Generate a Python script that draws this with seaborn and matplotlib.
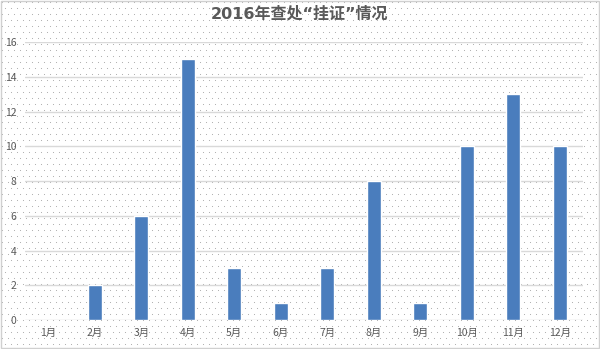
import matplotlib
matplotlib.use("Agg")
import matplotlib.pyplot as plt
import seaborn as sns
import pandas as pd
import numpy as np

months = ["1月", "2月", "3月", "4月", "5月", "6月", "7月", "8月", "9月", "10月", "11月", "12月"]
counts = [0, 2, 6, 15, 3, 1, 3, 8, 1, 10, 13, 10]
yticks = [0, 2, 4, 6, 8, 10, 12, 14, 16]
title = "2016年查处“挂证”情况"

sns.set_theme(style="white")
plt.rcParams['font.family'] = ['Noto Sans CJK SC', 'DejaVu Sans']

fig = plt.figure(figsize=(6.0, 3.49), dpi=100)
fig.patch.set_facecolor('white')

# stippled background
bgax = fig.add_axes([0, 0, 1, 1], zorder=-10)
bgax.set_xlim(0, 600)
bgax.set_ylim(349, 0)
bgax.axis('off')
gx, gy = np.meshgrid(np.arange(2, 600, 6.0), np.arange(2, 349, 6.0))
gx = gx + (np.arange(gy.shape[0])[:, None] % 2) * 3
bgax.scatter(gx.ravel(), gy.ravel(), s=0.6, color='#a8a8a8', linewidths=0)
bgax.add_patch(plt.Rectangle((0.5, 0.5), 598.5, 347.5, fill=False,
                             edgecolor='#d0d0d0', linewidth=1))

ax = fig.add_axes([25/600, 1-320/349, 558/600, (320-42)/349])
ax.patch.set_alpha(0)

df = pd.DataFrame({"month": months, "count": counts})
sns.barplot(data=df, x="month", y="count", color="#4a7dbd", width=0.3,
            saturation=1, ax=ax, zorder=3)

ax.set_xlim(-0.5, 11.5)
ax.set_ylim(0, 16)
ax.set_yticks(yticks)
ax.yaxis.grid(True, color='#d9d9d9', linewidth=1.0, zorder=0)
ax.set_axisbelow(True)
for s in ax.spines.values():
    s.set_visible(False)
ax.set_xlabel("")
ax.set_ylabel("")
ax.tick_params(axis='both', length=0, labelsize=7.5, colors='#595959')
ax.tick_params(axis='x', pad=6)
ax.tick_params(axis='y', pad=6)

fig.text(0.5, 1-14/349, title, ha='center', va='center', fontsize=11.5,
         fontweight='bold', color='#595959',
         family=['DejaVu Sans', 'Noto Sans CJK SC'])

fig.savefig("out.png", dpi=100)
